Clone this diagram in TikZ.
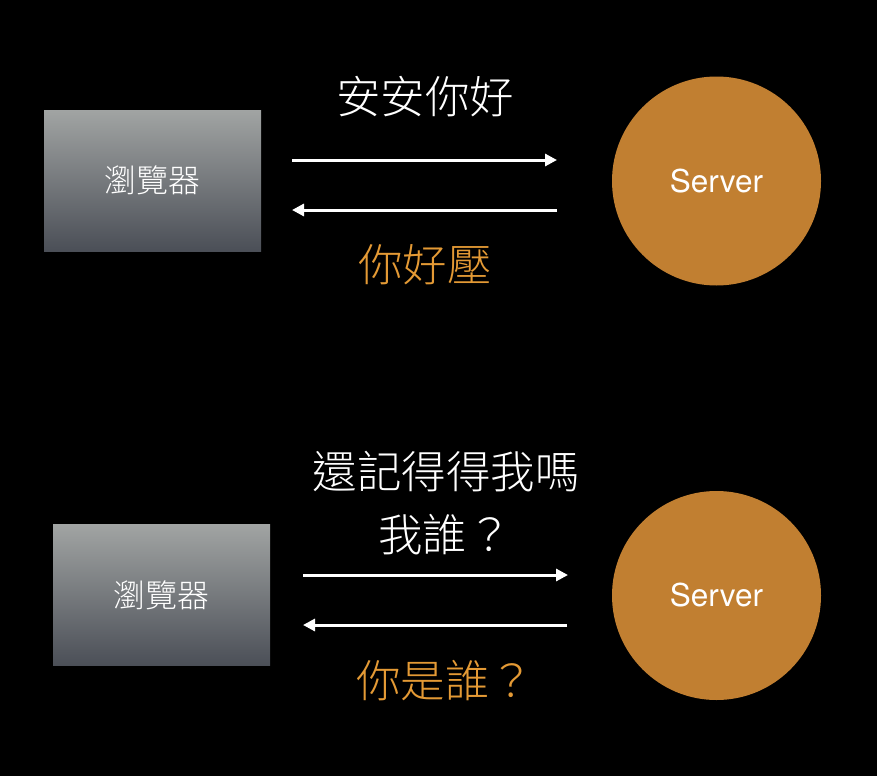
\documentclass[tikz,border=0pt]{standalone}
\usepackage{fontspec}
\usetikzlibrary{arrows.meta}
\newfontfamily\cjk{Noto Sans CJK TC Light}
\newfontfamily\latin{TeX Gyre Heros}
\definecolor{boxtop}{HTML}{A1A4A3}
\definecolor{boxbot}{HTML}{4B4F57}
\definecolor{srv}{HTML}{C17F31}
\definecolor{reply}{HTML}{E49A35}
\begin{document}
\begin{tikzpicture}[x=1pt,y=-1pt,
  browser/.style={minimum width=217pt,minimum height=141pt,top color=boxtop,bottom color=boxbot,inner sep=0pt,text=white,font=\cjk\fontsize{32}{36}\selectfont},
  server/.style={circle,fill=srv,minimum size=209pt,inner sep=0pt,text=white,font=\latin\fontsize{31.5}{36}\selectfont},
  msg/.style={line width=3pt,white,-{Triangle[length=12pt,width=12pt]}},
  sendtext/.style={text=white,font=\cjk\fontsize{44.5}{52}\selectfont,inner sep=0pt},
  replytext/.style={text=reply,font=\cjk\fontsize{44.5}{52}\selectfont,inner sep=0pt}]
\useasboundingbox[fill=black] (0,0) rectangle (877,776);
\node[browser] (b1) at (152.5,180.5) {瀏覽器};
\node[server] (s1) at (716.5,181) {Server};
\coordinate (a1s) at (292,160);
\coordinate (a1e) at (557,160);
\coordinate (a2s) at (557,210);
\coordinate (a2e) at (292,210);
\draw[msg] (a1s) -- (a1e);
\draw[msg] (a2s) -- (a2e);
\node[sendtext] (t1) at (425,97) {安安你好};
\node[replytext] (r1) at (425,265) {你好壓};
\node[browser] (b2) at (161.5,595) {瀏覽器};
\node[server] (s2) at (716.5,595.5) {Server};
\coordinate (a3s) at (303,575);
\coordinate (a3e) at (568,575);
\coordinate (a4s) at (567,625);
\coordinate (a4e) at (303,625);
\draw[msg] (a3s) -- (a3e);
\draw[msg] (a4s) -- (a4e);
\node[sendtext] (t2) at (446,472) {還記得得我嗎};
\node[sendtext] (t3) at (445,535) {我誰？};
\node[replytext] (r2) at (445,681) {你是誰？};
\end{tikzpicture}
\end{document}
